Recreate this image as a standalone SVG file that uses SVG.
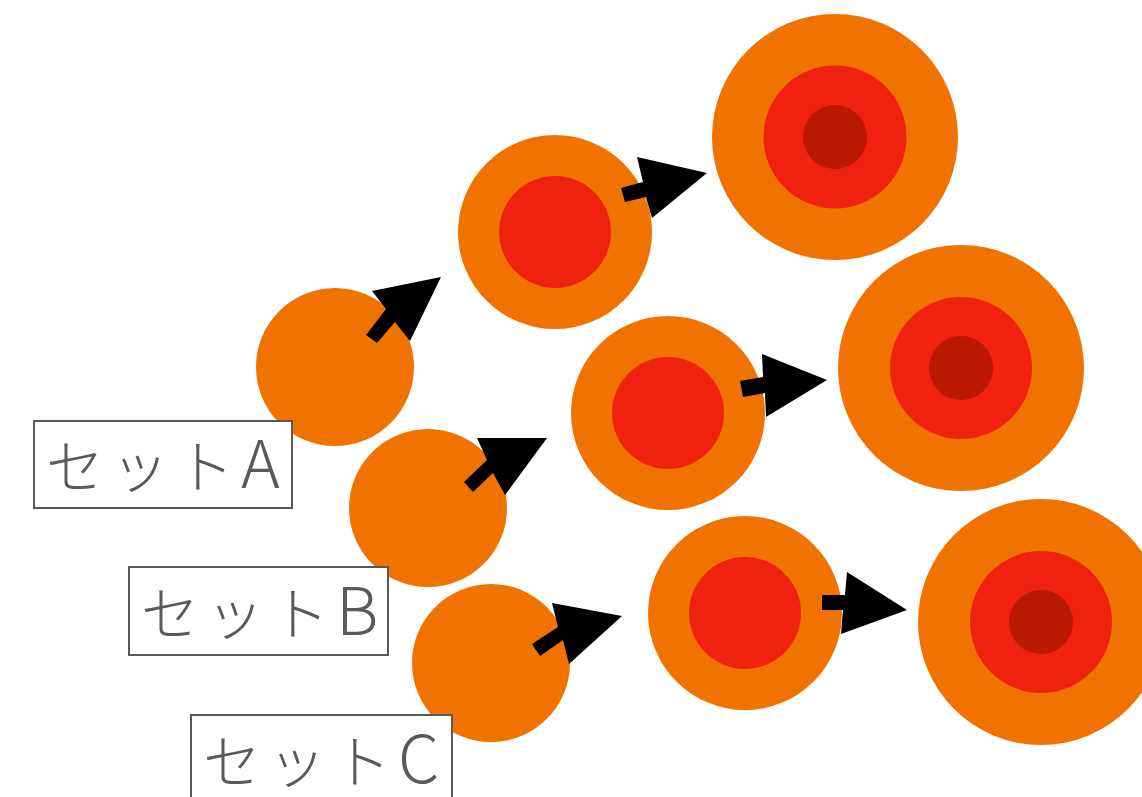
<svg xmlns="http://www.w3.org/2000/svg" width="1142" height="797" viewBox="0 0 1142 797">
<style>
.o{fill:#F07300}
.r{fill:#EE220F}
.d{fill:#B91900}
.arr{fill:#000}
.box{fill:#fff;stroke:#595959;stroke-width:2}
.lbl{font-family:"Noto Sans CJK JP","Noto Sans",sans-serif;font-size:58px;font-weight:300;fill:#595959;letter-spacing:7px}
.lat{font-size:66px}
</style>
<rect width="1142" height="797" fill="#fff"/>
<g id="a-small"><circle class="o" cx="335" cy="367" r="79"/></g>
<g id="b-small"><circle class="o" cx="428" cy="508" r="79"/></g>
<g id="c-small"><circle class="o" cx="491" cy="663" r="79"/></g>
<g id="a-mid"><circle class="o" cx="555" cy="232" r="97"/><circle class="r" cx="555" cy="232" r="56"/></g>
<g id="b-mid"><circle class="o" cx="668" cy="413" r="97"/><circle class="r" cx="668" cy="413" r="56"/></g>
<g id="c-mid"><circle class="o" cx="745" cy="613" r="97"/><circle class="r" cx="745" cy="613" r="56"/></g>
<g id="a-large"><circle class="o" cx="835" cy="137" r="123"/><circle class="r" cx="835" cy="137" r="71.5"/><circle class="d" cx="835" cy="137" r="32"/></g>
<g id="b-large"><circle class="o" cx="961" cy="368" r="123"/><circle class="r" cx="961" cy="368" r="71"/><circle class="d" cx="961" cy="368" r="32"/></g>
<g id="c-large"><circle class="o" cx="1041" cy="622" r="123"/><circle class="r" cx="1041" cy="622" r="71"/><circle class="d" cx="1041" cy="622" r="32"/></g>
<g id="connectors">
<polygon class="arr" points="366,335 386,309 372,291 441,277 410,341 395,322 377,343"/>
<polygon class="arr" points="621,188 643,182 637,157 707,173 652,218 646,197 625,202"/>
<polygon class="arr" points="464,482 487,460 477,438 547,438 505,495 493,473 473,492"/>
<polygon class="arr" points="740,381 763,377 762,354 827,380 766,417 765,393 743,397"/>
<polygon class="arr" points="532,644 558,627 552,603 622,616 569,664 563,640 540,656"/>
<polygon class="arr" points="822,595 845,595 847,572 907,610 841,634 843,610 822,610"/>
</g>
<g id="label-a"><rect class="box" x="34" y="421" width="258" height="87"/><text class="lbl" x="46" y="488">セット<tspan class="lat">A</tspan></text></g>
<g id="label-b"><rect class="box" x="129" y="567" width="259" height="88"/><text class="lbl" x="141" y="635">セット<tspan class="lat">B</tspan></text></g>
<g id="label-c"><rect class="box" x="191" y="715" width="261" height="90"/><text class="lbl" x="203" y="783">セット<tspan class="lat">C</tspan></text></g>
</svg>
